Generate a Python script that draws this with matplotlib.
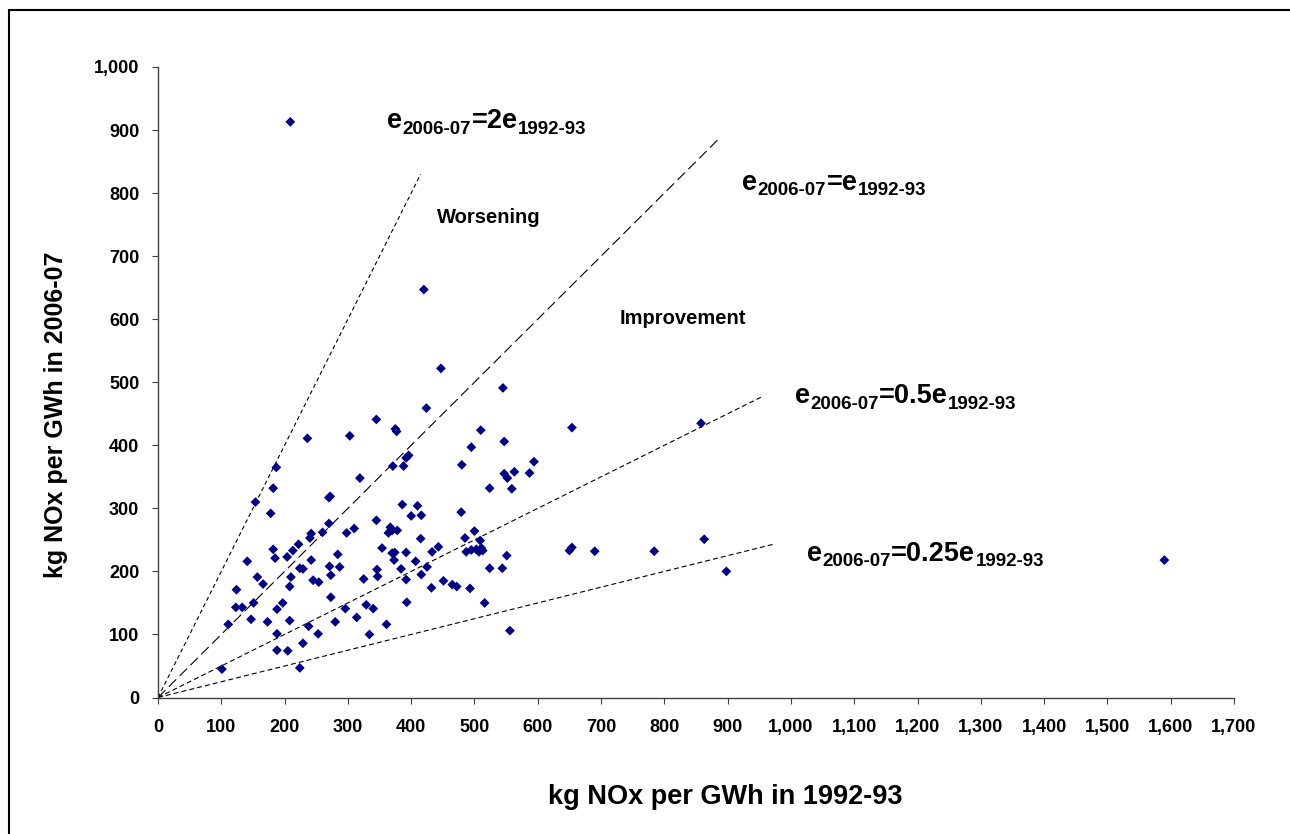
import matplotlib
matplotlib.use("Agg")
import matplotlib.pyplot as plt
from matplotlib.patches import Rectangle
from matplotlib.ticker import FuncFormatter, MultipleLocator

# kg NOx per GWh, 1992-93 (x) vs 2006-07 (y)
nox_1992 = [
    236, 303, 319, 187, 182, 154, 178, 272, 270, 270, 298, 310, 260, 242, 240,
    222, 213, 204, 182, 185, 141, 242, 284, 287, 271, 273, 224, 229, 210, 208,
    245, 254, 325, 157, 166, 124, 273, 123, 133, 151, 197, 188, 147, 173, 208,
    111, 238, 280, 296, 314, 329, 188, 253, 229, 188, 205, 224, 101, 334,
    447, 545, 424, 345, 375, 377, 510, 654, 547, 495, 396, 392, 388, 371, 480,
    594, 563, 587, 547, 552, 524, 559, 386, 410, 400, 416, 479, 345, 367, 370,
    378, 364, 500, 485, 509, 415, 354, 443, 433, 392, 370, 374, 373, 407, 487,
    495, 503, 511, 513, 507, 551, 425, 416, 384, 392, 346, 347, 524, 544, 451,
    465, 472, 493, 432, 393, 516, 340, 361, 556,
    420, 209, 858, 650, 654, 690, 784, 863, 898, 1590,
]
nox_2006 = [
    411, 415, 348, 365, 332, 310, 292, 319, 317, 276, 261, 268, 262, 260, 253,
    243, 233, 223, 235, 221, 216, 218, 227, 207, 208, 194, 205, 204, 191, 176,
    186, 183, 188, 191, 180, 171, 159, 143, 143, 150, 150, 140, 124, 120, 122,
    116, 113, 120, 141, 127, 147, 101, 101, 86, 75, 74, 47, 45, 100,
    522, 491, 459, 441, 426, 422, 424, 428, 406, 397, 384, 380, 367, 367, 369,
    374, 358, 356, 355, 348, 332, 331, 306, 304, 288, 289, 294, 281, 270, 265,
    265, 261, 264, 253, 249, 252, 237, 239, 231, 230, 229, 230, 218, 216, 231,
    234, 235, 237, 233, 231, 225, 207, 195, 204, 187, 203, 192, 205, 205, 185,
    179, 176, 173, 174, 151, 150, 141, 116, 106,
    647, 913, 435, 233, 238, 232, 232, 251, 200, 218,
]

# reference lines e2006 = k * e1992 and how far each is drawn
ratios = [2, 1, 0.5, 0.25]
ratio_ends = [415, 888, 955, 975]
ratio_texts = ["=2e", "=e", "=0.5e", "=0.25e"]
ratio_text_pos = [(362, 903), (923, 805), (1006, 467), (1025, 217)]
ratio_dashes = [(3, 2.2), (7.5, 3.5), (3.6, 2.2), (3.6, 2.2)]

plt.rcParams["font.family"] = ["Liberation Sans", "DejaVu Sans"]
plt.rcParams["lines.scale_dashes"] = False

W, H = 1290, 834
fig = plt.figure(figsize=(W / 100, H / 100), dpi=100)
ax = fig.add_axes([158 / W, 1 - 697.5 / H, (1234 - 158) / W, (697.5 - 67) / H])

for k, xe, d in zip(ratios, ratio_ends, ratio_dashes):
    ax.plot([0, xe], [0, k * xe], color="black", lw=0.8, dashes=d, zorder=1)

ax.scatter(nox_1992, nox_2006, marker="D", s=25, color="#000080",
           edgecolors="none", zorder=3, clip_on=False)


def eq_label(x, y, mid):
    big, small = 19.5, 13.5
    t = ax.text(x, y, "e", fontsize=big, fontweight="bold", va="baseline")
    parts = [("2006-07", small, -2.5), (mid, big, 2.5),
             ("1992-93", small, -2.5)]
    for s, size, dy in parts:
        t = ax.annotate(s, xy=(1, 0), xycoords=t, xytext=(0.3, dy),
                        textcoords="offset points", fontsize=size,
                        fontweight="bold", va="bottom", ha="left")


for txt, (x, y) in zip(ratio_texts, ratio_text_pos):
    eq_label(x, y, txt)

ax.text(441, 753, "Worsening", fontsize=14.5, fontweight="bold", va="baseline")
ax.text(729, 593, "Improvement", fontsize=14.5, fontweight="bold",
        va="baseline")

ax.set_xlim(0, 1700)
ax.set_ylim(0, 1000)
ax.xaxis.set_major_locator(MultipleLocator(100))
ax.yaxis.set_major_locator(MultipleLocator(100))
fmt = FuncFormatter(lambda v, p: f"{v:,.0f}")
ax.xaxis.set_major_formatter(fmt)
ax.yaxis.set_major_formatter(fmt)

for side in ["top", "right"]:
    ax.spines[side].set_visible(False)
for side in ["left", "bottom"]:
    ax.spines[side].set_color("#404040")
    ax.spines[side].set_linewidth(1.0)

ax.tick_params(axis="x", direction="out", length=4.5, width=0.8,
               color="#404040", pad=11, labelsize=13)
ax.tick_params(axis="y", direction="out", length=4.5, width=0.8,
               color="#404040", pad=9, labelsize=13)
for lab in ax.get_xticklabels() + ax.get_yticklabels():
    lab.set_fontweight("bold")

fig.text(725 / W, 1 - 797 / H, "kg NOx per GWh in 1992-93", fontsize=19.5,
         fontweight="bold", ha="center", va="center")
fig.text(56 / W, 1 - 415 / H, "kg NOx per GWh in 2006-07", fontsize=18,
         fontweight="bold", ha="center", va="center", rotation=90)

# outer frame (cut off at the right and bottom edges in the original)
fig.add_artist(Rectangle((9 / W, -0.02), 1.0, 1.02 - 10 / H,
                         transform=fig.transFigure, fill=False,
                         lw=1.5, ec="black"))

fig.savefig("out.png", dpi=100)
